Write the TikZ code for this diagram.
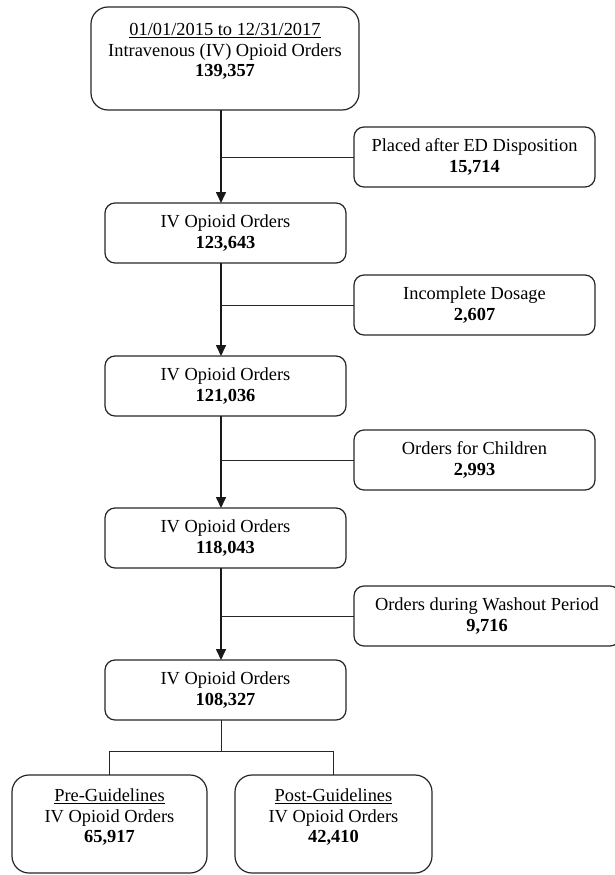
\documentclass[tikz,border=0pt]{standalone}
\usepackage{fontspec}
\setmainfont{Liberation Serif}
\usetikzlibrary{arrows.meta}
\begin{document}
\begin{tikzpicture}[x=1pt,y=-1pt,
  box/.style={draw=black!85, line width=1.2pt, rounded corners=10pt, outer sep=0pt, inner sep=0pt,
              align=center, font=\fontsize{18.4}{21}\selectfont},
  mainbox/.style={box, minimum width=241pt, minimum height=60pt},
  sidebox/.style={box, minimum width=241pt, minimum height=60pt},
  bigbox/.style={box, rounded corners=17pt},
  txt/.style={align=center, font=\fontsize{18.4}{20.5}\selectfont, inner sep=0pt},
  conn/.style={draw=black!85, line width=1pt},
  arr/.style={draw=black!90, line width=1.6pt, -{Triangle[length=11pt,width=10pt]}}]
\useasboundingbox (0,0) rectangle (614,875);
% main column
\node[bigbox, minimum width=268pt, minimum height=103pt] (b1) at (225,58.5) {};
\node[txt] (t1) at (225,51.5) {\underline{01/01/2015 to 12/31/2017}\\Intravenous (IV) Opioid Orders\\\textbf{139,357}};
\node[mainbox] (b2) at (225.5,233) {IV Opioid Orders\\\textbf{123,643}};
\node[mainbox] (b3) at (225.5,386) {IV Opioid Orders\\\textbf{121,036}};
\node[mainbox] (b4) at (225.5,538) {IV Opioid Orders\\\textbf{118,043}};
\node[mainbox] (b5) at (225.5,690) {IV Opioid Orders\\\textbf{108,327}};
% side boxes
\node[sidebox] (s1) at (474.5,157) {Placed after ED Disposition\\\textbf{15,714}};
\node[sidebox] (s2) at (474.5,305) {Incomplete Dosage\\\textbf{2,607}};
\node[sidebox] (s3) at (474.5,460) {Orders for Children\\\textbf{2,993}};
\node[sidebox, minimum width=266pt] (s4) at (487,616) {Orders during Washout Period\\\textbf{9,716}};
% bottom boxes
\node[bigbox, minimum width=195pt, minimum height=98pt] (bl) at (109.5,824) {};
\node[txt] (tl) at (109.5,817.5) {\underline{Pre-Guidelines}\\IV Opioid Orders\\\textbf{65,917}};
\node[bigbox, minimum width=197pt, minimum height=98pt] (br) at (333.5,824) {};
\node[txt] (tr) at (333.5,817.5) {\underline{Post-Guidelines}\\IV Opioid Orders\\\textbf{42,410}};
% helper coordinates
\coordinate (mx) at (221,0);
\coordinate (sp) at (0,751);
% arrows down the main column
\draw[arr] (b1.south -| mx) -- (b2.north -| mx);
\draw[arr] (b2.south -| mx) -- (b3.north -| mx);
\draw[arr] (b3.south -| mx) -- (b4.north -| mx);
\draw[arr] (b4.south -| mx) -- (b5.north -| mx);
% exclusion branches
\draw[conn] (s1.west) -- (s1.west -| mx);
\draw[conn] (s2.west) -- (s2.west -| mx);
\draw[conn] (s3.west) -- (s3.west -| mx);
\draw[conn] (s4.west) -- (s4.west -| mx);
% split
\draw[conn] (b5.south -| mx) -- (sp -| mx);
\draw[conn] (bl.north) -- (bl.north |- sp) -- (br.north |- sp) -- (br.north);
\end{tikzpicture}
\end{document}
